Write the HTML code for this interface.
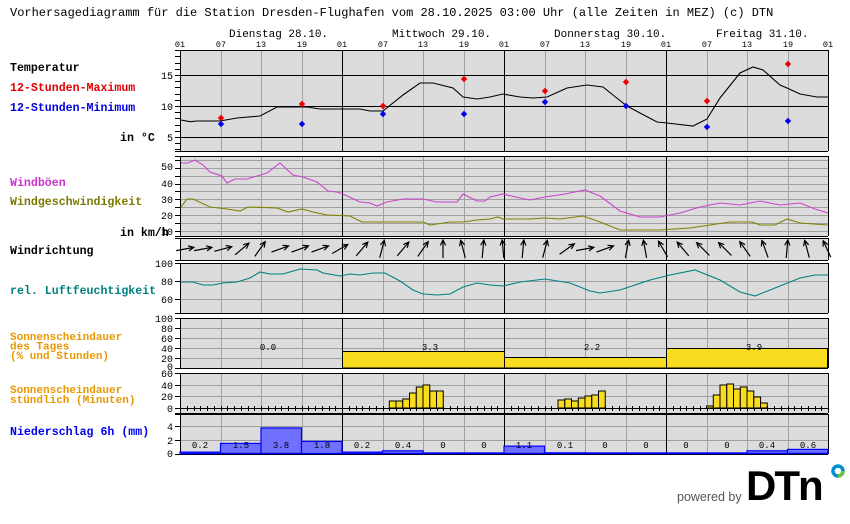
<!DOCTYPE html>
<html><head><meta charset="utf-8">
<style>
html,body{margin:0;padding:0;background:#fff;}
svg{display:block;}
text{font-family:"Liberation Mono",monospace;}
.lb{font-size:11.6px;font-weight:bold;}
.tk{font-size:10px;}
</style></head><body>
<svg id="s" width="850" height="524" viewBox="0 0 850 524" xmlns="http://www.w3.org/2000/svg">
<text x="10" y="16" class="lb" style="font-weight:normal;font-size:12px">Vorhersagediagramm für die Station Dresden-Flughafen vom 28.10.2025 03:00 Uhr (alle Zeiten in MEZ)   (c) DTN</text>
<g class="tk" style="font-size:11px">
<text x="229" y="37">Dienstag 28.10.</text>
<text x="392" y="37">Mittwoch 29.10.</text>
<text x="554" y="37">Donnerstag 30.10.</text>
<text x="716" y="37">Freitag 31.10.</text>
</g>
<g class="tk" text-anchor="middle" style="font-size:8.5px">
<text x="180" y="47">01</text><text x="221" y="47">07</text><text x="261" y="47">13</text><text x="302" y="47">19</text>
<text x="342" y="47">01</text><text x="383" y="47">07</text><text x="423" y="47">13</text><text x="464" y="47">19</text>
<text x="504" y="47">01</text><text x="545" y="47">07</text><text x="585" y="47">13</text><text x="626" y="47">19</text>
<text x="666" y="47">01</text><text x="707" y="47">07</text><text x="747" y="47">13</text><text x="788" y="47">19</text>
<text x="828" y="47">01</text>
</g>
<g fill="#dcdcdc">
<rect x="180" y="50" width="648" height="101"/>
<rect x="180" y="156" width="648" height="80"/>
<rect x="180" y="238" width="648" height="22"/>
<rect x="180" y="263" width="648" height="50"/>
<rect x="180" y="318" width="648" height="50"/>
<rect x="180" y="373" width="648" height="40"/>
<rect x="180" y="414" width="648" height="40"/>
</g>
<g id="grid"></g>
<g class="lb">
<text x="10" y="71" fill="#000">Temperatur</text>
<text x="10" y="91" fill="#e00000">12-Stunden-Maximum</text>
<text x="10" y="111" fill="#0000dd">12-Stunden-Minimum</text>
<text x="120" y="141" fill="#000">in °C</text>
<text x="10" y="186" fill="#cc33cc">Windböen</text>
<text x="10" y="205" fill="#7a7a00">Windgeschwindigkeit</text>
<text x="120" y="236" fill="#000">in km/h</text>
<text x="10" y="254" fill="#000">Windrichtung</text>
<text x="10" y="294" fill="#008080">rel. Luftfeuchtigkeit</text>
</g>
<g class="lb" style="font-size:11px" fill="#e89800">
<text x="10" y="340">Sonnenscheindauer</text>
<text x="10" y="349.5">des Tages</text>
<text x="10" y="359">(% und Stunden)</text>
<text x="10" y="393">Sonnenscheindauer</text>
<text x="10" y="403">stündlich (Minuten)</text>
</g>
<text x="10" y="435" class="lb" fill="#0000ee">Niederschlag 6h (mm)</text>
<g class="tk" text-anchor="end" style="font-size:10px">
<text x="173" y="79">15</text><text x="173" y="110">10</text><text x="173" y="141">5</text>
<text x="173" y="170">50</text><text x="173" y="187">40</text><text x="173" y="203">30</text><text x="173" y="219">20</text><text x="173" y="235">10</text>
<text x="173" y="267">100</text><text x="173" y="285">80</text><text x="173" y="303">60</text>
<text x="173" y="322">100</text><text x="173" y="332">80</text><text x="173" y="342">60</text><text x="173" y="352">40</text><text x="173" y="362">20</text><text x="173" y="370">0</text>
<text x="173" y="377">60</text><text x="173" y="389">40</text><text x="173" y="400">20</text><text x="173" y="412">0</text>
<text x="173" y="430">4</text><text x="173" y="444">2</text><text x="173" y="457">0</text>
</g>
<g fill="#f8dc20" stroke="#000" stroke-width="1">
<rect x="342.5" y="351.5" width="162" height="16.5"/>
<rect x="504.5" y="357.5" width="162" height="10.5"/>
<rect x="666.5" y="348.5" width="161" height="19.5"/>
</g>
<g class="tk" text-anchor="middle" style="font-size:9px">
<text x="268" y="350">0.0</text><text x="430" y="350">3.3</text><text x="592" y="350">2.2</text><text x="754" y="350">3.9</text>
</g>
<g id="hsun" fill="#f8dc20" stroke="#000" stroke-width="1"></g>
<g id="prec" fill="#7070ff" stroke="#0000ff" stroke-width="1.2"></g>
<g class="tk" text-anchor="middle" style="font-size:9px">
<text x="200" y="448">0.2</text><text x="241" y="448">1.5</text><text x="281" y="448">3.8</text><text x="322" y="448">1.8</text>
<text x="362" y="448">0.2</text><text x="403" y="448">0.4</text><text x="443" y="448">0</text><text x="484" y="448">0</text>
<text x="524" y="448">1.1</text><text x="565" y="448">0.1</text><text x="605" y="448">0</text><text x="646" y="448">0</text>
<text x="686" y="448">0</text><text x="727" y="448">0</text><text x="767" y="448">0.4</text><text x="808" y="448">0.6</text>
</g>
<g id="series" fill="none" stroke-width="1.1"></g>
<g id="arrows" stroke="#000" stroke-width="1.2" fill="none"></g>
<g id="marks"></g>
<text x="677" y="501" style="font-family:'Liberation Sans',sans-serif;font-size:12.5px" fill="#555">powered by</text>
<text x="746" y="500" style="font-family:'Liberation Sans',sans-serif;font-size:42px;font-weight:bold;letter-spacing:-2px" fill="#000">DTn</text>
<circle cx="838" cy="471" r="5" fill="none" stroke="#0090d0" stroke-width="3.5"/>
<circle cx="838" cy="471" r="5" fill="none" stroke="#70c040" stroke-width="3.5" stroke-dasharray="8 24"/>
</svg>
<script>
const NS="http://www.w3.org/2000/svg";
function el(p,t,a){const e=document.createElementNS(NS,t);for(const k in a)e.setAttribute(k,a[k]);p.appendChild(e);return e;}
const g=document.getElementById('grid');
function hl(y,x1,x2,c){el(g,'line',{x1:x1,x2:x2,y1:y+.5,y2:y+.5,stroke:c,'stroke-width':1});}
function vl(x,y1,y2,c){el(g,'line',{x1:x+.5,x2:x+.5,y1:y1,y2:y2,stroke:c,'stroke-width':1});}
const panels=[[50,151],[156,236],[238,260],[263,313],[318,368],[373,413],[414,454]];
[160,168,176,184,191,199,207,215,223,231].forEach(y=>hl(y,180,828,'#a0a0a0'));
[281,299].forEach(y=>hl(y,180,828,'#a0a0a0'));
[328,338,348,358].forEach(y=>hl(y,180,828,'#a0a0a0'));
[385,396].forEach(y=>hl(y,180,828,'#a0a0a0'));
[426,440].forEach(y=>hl(y,180,828,'#a0a0a0'));
for(let d=0;d<4;d++){const x0=180+162*d;[6,12,18].forEach(h=>{const x=Math.round(x0+h*6.75);panels.forEach(p=>vl(x,p[0],p[1],'#a0a0a0'));});}
[180,342,504,666,828].forEach(x=>panels.forEach(p=>vl(x,p[0],p[1],'#000')));
[75,106,137].forEach(y=>hl(y,175,828,'#000'));
panels.forEach(p=>{hl(p[0],175,828,'#000');hl(p[1],175,828,'#000');});
hl(408,175,828,'#000');
for(let t=3;t<=19;t++){const y=Math.round(106-(t-10)*6.2);hl(y,175,180,'#000');}
[160,168,176,184,191,199,207,215,223,231,281,299,328,338,348,358,385,396,426,440].forEach(y=>hl(y,175,180,'#000'));
for(let h=0;h<96;h++){const x=Math.round(180+h*6.75);el(g,'line',{x1:x+.5,x2:x+.5,y1:406,y2:411,stroke:'#000','stroke-width':1});}
const hs=document.getElementById('hsun');
function bars(day,start,tops){tops.forEach((t,i)=>{const x=180+162*day+(start+i)*6.75;el(hs,'rect',{x:x.toFixed(1),y:t,width:6.75,height:408-t});});}
bars(1,7,[401,401,399,393,387,385,391,391]);
bars(2,8,[400,399,401,398,396,395,391]);
bars(3,6,[406,395,385,384,389,387,391,397,403]);
const pr=document.getElementById('prec');
const pv=[0.2,1.5,3.8,1.8,0.2,0.4,0,0,1.1,0.1,0,0,0,0,0.4,0.6];
pv.forEach((v,i)=>{const x=180+i*40.5;const h=Math.max(v*6.75,0.6);el(pr,'rect',{x:x.toFixed(1),y:(453.5-h).toFixed(1),width:40.5,height:h.toFixed(1)});});
el(pr,'line',{x1:180,x2:828,y1:453.5,y2:453.5});
const s=document.getElementById('series');
function pl(pts,c){el(s,'polyline',{points:pts.map(p=>p.join(',')).join(' '),stroke:c});}
pl([[181,120],[190,121.7],[197,121],[220,121],[237,118],[260,116],[277,107],[307,107],[320,109],[350,109],[360,109],[370,111],[383,111],[403,95],[420,83],[433,83],[453,88],[463,97],[477,99],[490,97],[503,94],[520,97],[533,98],[547,97],[567,88],[587,85],[603,87],[613,95],[627,106],[640,113],[657,122],[667,123],[693,126],[707,119],[720,98],[740,73],[753,67],[763,70],[780,85],[787,88],[800,94],[817,97],[828,97]],'#000');
pl([[181,163],[188,163],[195,160],[203,165],[210,172],[222,176],[227,183],[235,179],[247,179],[257,176],[267,173],[280,163],[293,175],[303,177],[317,182],[328,191],[337,192],[343,194],[360,202],[370,203],[377,206],[387,202],[403,199],[423,199],[437,202],[457,202],[463,194],[477,201],[485,201],[490,197],[503,194],[520,198],[530,200],[545,197],[565,194],[585,190],[600,196],[620,211],[640,217],[660,217],[680,213],[700,207],[720,203],[740,205],[760,201],[780,205],[800,203],[815,209],[828,213]],'#cc44cc');
pl([[181,207],[187,199],[193,199],[210,207],[227,209],[240,211],[248,207],[277,208],[288,212],[302,209],[313,212],[327,215],[350,216],[362,222],[423,222],[430,225],[437,224],[450,222],[463,222],[477,220],[490,219],[498,217],[503,219],[530,219],[545,218],[560,219],[583,216],[600,222],[620,230],[660,230],[690,228],[710,225],[730,222],[752,222],[760,225],[775,225],[787,219],[800,223],[828,225]],'#808000');
pl([[181,282],[193,282],[203,285],[213,285],[223,283],[237,282],[250,278],[260,272],[270,274],[283,274],[300,269],[317,270],[323,273],[340,276],[350,274],[360,275],[373,273],[385,273],[400,281],[413,290],[423,294],[437,295],[450,294],[463,287],[477,283],[490,285],[503,286],[520,282],[545,279],[570,283],[590,291],[600,293],[620,290],[650,280],[670,275],[695,270],[720,280],[740,292],[755,296],[775,288],[800,278],[815,275],[828,275]],'#008080');
const m=document.getElementById('marks');
function mk(x,y,c){el(m,'path',{d:`M${x-2.5},${y} L${x},${y-2.5} L${x+2.5},${y} L${x},${y+2.5}Z`,fill:c,stroke:c,'stroke-width':1});}
[[221,118],[302,104],[383,106],[464,79],[545,91],[626,82],[707,101],[788,64]].forEach(p=>mk(p[0],p[1],'#ee0000'));
[[221,124],[302,124],[383,114],[464,114],[545,102],[626,106],[707,127],[788,121]].forEach(p=>mk(p[0],p[1],'#0000ee'));
const ar=document.getElementById('arrows');
const xs=[185,203,223,242,260,280,300,320,340,362,382,403,423,443,463,483,503,523,545,567,585,605,627,645,663,683,703,725,745,765,787,807,827];
const an=[80,80,75,50,35,70,70,70,60,40,15,40,35,0,-15,5,-5,5,15,55,80,70,10,-10,-30,-40,-45,-45,-35,-20,5,-15,-25];
xs.forEach((x,i)=>{const a=an[i]*Math.PI/180;const L=9;const cy=249;
const dx=Math.sin(a),dy=-Math.cos(a);
const tx=x+dx*L,ty=cy+dy*L,bx=x-dx*L,by=cy-dy*L;
const h=6,w=0.45;
const l1x=tx-h*(dx*Math.cos(w)-dy*Math.sin(w)),l1y=ty-h*(dy*Math.cos(w)+dx*Math.sin(w));
const l2x=tx-h*(dx*Math.cos(-w)-dy*Math.sin(-w)),l2y=ty-h*(dy*Math.cos(-w)+dx*Math.sin(-w));
el(ar,'path',{d:`M${bx.toFixed(1)},${by.toFixed(1)}L${tx.toFixed(1)},${ty.toFixed(1)}M${l1x.toFixed(1)},${l1y.toFixed(1)}L${tx.toFixed(1)},${ty.toFixed(1)}L${l2x.toFixed(1)},${l2y.toFixed(1)}`});});
</script>
</body></html>
